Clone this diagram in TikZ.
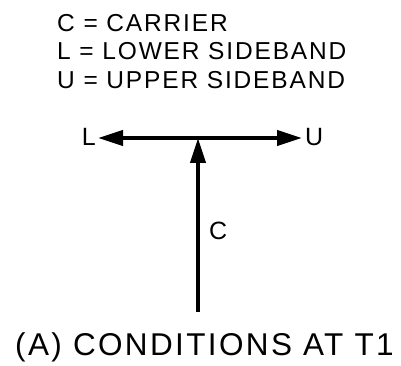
\documentclass[tikz,border=0pt]{standalone}
\usepackage{fontspec}
\setmainfont{Liberation Sans}
\newfontfamily\widefont[LetterSpace=7.5]{Liberation Sans}
\usetikzlibrary{arrows.meta}
\tikzset{
  vec/.style={line width=4pt,-{Triangle[length=25pt,width=15pt]}},
  lbl/.style={inner sep=0pt,font=\widefont\fontsize{25pt}{25pt}\selectfont},
  legend/.style={inner sep=0pt,anchor=base west,font=\widefont\fontsize{24.5pt}{24.5pt}\selectfont},
  caption/.style={inner sep=0pt,anchor=base west,font=\widefont\fontsize{31.5pt}{31.5pt}\selectfont}
}
\begin{document}
\begin{tikzpicture}[x=1pt,y=-1pt]
\useasboundingbox (0,0) rectangle (401,366);
\node[legend] (l1) at (57,31.5) {C = CARRIER};
\node[legend] (l2) at (57,60) {L = LOWER SIDEBAND};
\node[legend] (l3) at (57,88.5) {U = UPPER SIDEBAND};
\coordinate (o) at (198,138);
\coordinate (lt) at (98,138);
\coordinate (ut) at (302,138);
\coordinate (cb) at (198,312);
\draw[vec] (o) -- (lt);
\draw[vec] (o) -- (ut);
\draw[vec] (cb) -- (o);
\node[lbl,anchor=east] (L) at (96,137) {L};
\node[lbl,anchor=west] (U) at (305,137) {U};
\node[lbl,anchor=west] (C) at (209,231) {C};
\node[caption] (cap) at (15,355) {(A) CONDITIONS AT T1};
\end{tikzpicture}
\end{document}
